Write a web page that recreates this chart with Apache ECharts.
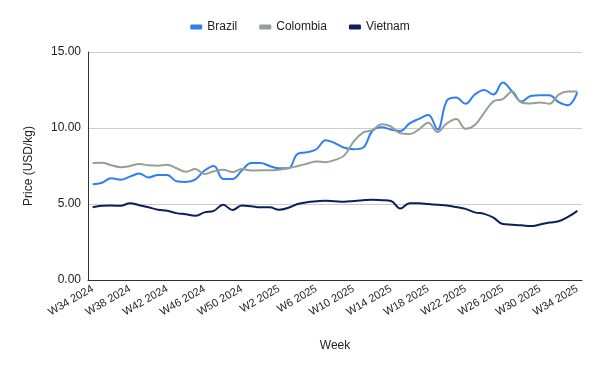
<!DOCTYPE html>
<html><head><meta charset="utf-8">
<script src="https://cdn.jsdelivr.net/npm/echarts@6/dist/echarts.min.js"></script>
<style>html,body{margin:0;padding:0;background:#fff}#c{width:600px;height:371px}</style>
</head><body><div id="c"></div>
<script>
var weeks = [];
for (var w = 34; w <= 52; w++) weeks.push('W' + w + ' 2024');
for (var w2 = 1; w2 <= 34; w2++) weeks.push('W' + w2 + ' 2025');

var brazil = [6.3,6.4,6.7,6.6,6.8,7.0,6.75,6.9,6.9,6.5,6.45,6.6,7.2,7.5,6.65,6.65,7.2,7.7,7.7,7.5,7.35,7.35,8.3,8.4,8.6,9.2,9.0,8.7,8.6,8.7,9.8,10.05,9.9,9.8,10.3,10.6,10.85,9.9,11.8,12.0,11.6,12.2,12.5,12.2,13.0,12.4,11.75,12.1,12.15,12.15,11.7,11.5,12.35];
var colombia = [7.7,7.72,7.55,7.42,7.5,7.63,7.55,7.52,7.58,7.35,7.12,7.3,6.97,7.15,7.25,7.1,7.3,7.2,7.22,7.22,7.26,7.35,7.5,7.65,7.8,7.75,7.9,8.2,9.1,9.7,9.85,10.25,10.1,9.65,9.6,9.9,10.35,9.74,10.3,10.6,9.95,10.2,11.0,11.75,11.9,12.4,11.68,11.62,11.68,11.6,12.2,12.4,12.4];
var vietnam = [4.78,4.88,4.9,4.88,5.05,4.92,4.78,4.62,4.55,4.4,4.32,4.22,4.45,4.55,4.95,4.6,4.9,4.85,4.78,4.78,4.62,4.75,5.0,5.12,5.18,5.22,5.18,5.15,5.2,5.25,5.28,5.25,5.2,4.7,5.05,5.05,5.0,4.95,4.9,4.8,4.68,4.45,4.35,4.1,3.68,3.64,3.6,3.55,3.65,3.78,3.86,4.15,4.55];

var FONT = 'Liberation Sans, Arial, sans-serif';
function mk(name, data, color) {
  return { name: name, type: 'line', data: data, smooth: 0.4, symbol: 'none',
    lineStyle: { width: 2, color: color }, itemStyle: { color: color } };
}
var chart = echarts.init(document.getElementById('c'), null, { renderer: 'canvas' });
chart.setOption({
  animation: false,
  textStyle: { fontFamily: FONT },
  legend: {
    top: 16, left: 'center', itemWidth: 12, itemHeight: 5, itemGap: 22,
    icon: 'roundRect',
    textStyle: { fontFamily: FONT, fontSize: 12, color: '#222' },
    data: ['Brazil', 'Colombia', 'Vietnam']
  },
  grid: { left: 88, right: 18, top: 52, bottom: 91, containLabel: false },
  xAxis: {
    type: 'category', data: weeks, boundaryGap: true,
    name: 'Week', nameLocation: 'middle', nameGap: 60,
    nameTextStyle: { fontFamily: FONT, fontSize: 12, color: '#222' },
    axisLine: { lineStyle: { color: '#333', width: 1 } },
    axisTick: { show: false },
    axisLabel: { interval: 3, rotate: 30, fontFamily: FONT, fontSize: 11, color: '#222', margin: 8 },
    splitLine: { show: false }
  },
  yAxis: {
    type: 'value', min: 0, max: 15, interval: 5,
    name: 'Price (USD/kg)', nameLocation: 'middle', nameGap: 53,
    nameTextStyle: { fontFamily: FONT, fontSize: 12, color: '#222' },
    axisLine: { show: true, lineStyle: { color: '#333', width: 1 } },
    axisTick: { show: false },
    axisLabel: { formatter: function (v) { return v.toFixed(2); }, fontFamily: FONT, fontSize: 12, color: '#222', margin: 7 },
    splitLine: { lineStyle: { color: '#cccccc', width: 1 } }
  },
  series: [
    mk('Brazil', brazil, '#2f7ff2'),
    mk('Colombia', colombia, '#949f96'),
    mk('Vietnam', vietnam, '#0c1f5b')
  ]
});
</script></body></html>
